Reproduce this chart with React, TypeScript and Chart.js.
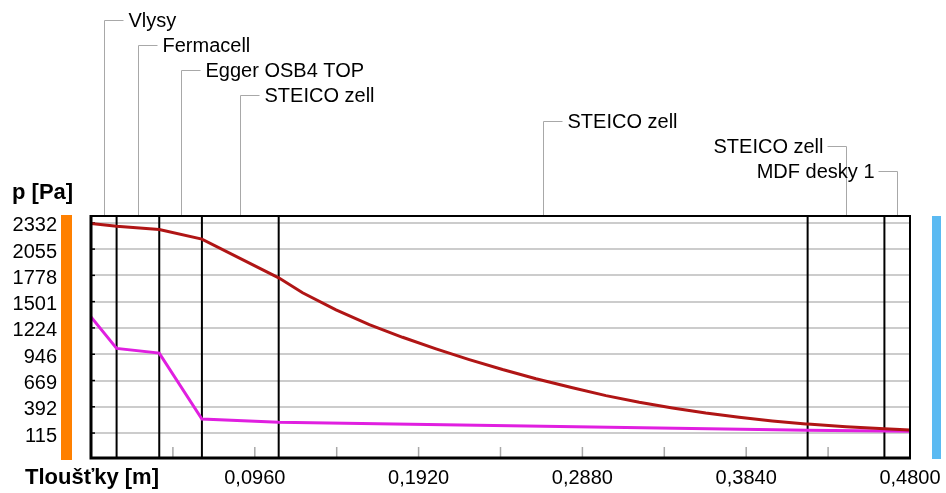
import React, { useEffect, useRef } from 'react';
import { Chart, registerables } from 'chart.js';

Chart.register(...registerables);

// ---- data ----
const layerNames = ['Vlysy', 'Fermacell', 'Egger OSB4 TOP', 'STEICO zell', 'STEICO zell', 'STEICO zell', 'MDF desky 1'];
const layerBounds = [0, 0.015, 0.04, 0.065, 0.11, 0.42, 0.465, 0.48];

const yTickValues = [115, 392, 669, 946, 1224, 1501, 1778, 2055, 2332];
const xLabelValues = [0.096, 0.192, 0.288, 0.384, 0.48];
const xMinorTicks = [0.048, 0.096, 0.144, 0.192, 0.24, 0.288, 0.336, 0.384, 0.432];

const Y_MIN = -148;
const Y_MAX = 2404;
const X_MIN = 0;
const X_MAX = 0.48;

// saturated vapour pressure (dark red)
const satX = [0, 0.015, 0.04, 0.065, 0.11, 0.124, 0.1436, 0.1631, 0.1826, 0.2022, 0.2217, 0.2412, 0.2608, 0.2822, 0.3018, 0.3213, 0.3408, 0.3603, 0.3798, 0.3993, 0.4189, 0.42, 0.4425, 0.465, 0.48];
const satP = [2325, 2295, 2262, 2160, 1752, 1595, 1415, 1258, 1125, 1003, 890, 785, 688, 592, 510, 440, 380, 326, 281, 243, 211, 210, 182, 161, 147];

// partial vapour pressure (magenta)
const partX = [0, 0.015, 0.04, 0.065, 0.11, 0.42, 0.465, 0.48];
const partP = [1340, 1008, 958, 262, 230, 145, 138, 133];

const FONT = "'Liberation Sans', Arial, sans-serif";

const decorPlugin = {
  id: 'decor',
  beforeDatasetsDraw(chart: any) {
    const { ctx, chartArea: a, scales } = chart;
    const x = scales.x;
    const y = scales.y;
    ctx.save();
    // minor tick marks at bottom
    ctx.strokeStyle = '#a8a8a8';
    ctx.lineWidth = 1.5;
    xMinorTicks.forEach((v) => {
      const px = x.getPixelForValue(v);
      ctx.beginPath();
      ctx.moveTo(px, a.bottom - 11);
      ctx.lineTo(px, a.bottom);
      ctx.stroke();
    });
    // small black ticks on left edge
    ctx.strokeStyle = '#000';
    ctx.lineWidth = 1.5;
    yTickValues.forEach((v) => {
      const py = y.getPixelForValue(v);
      ctx.beginPath();
      ctx.moveTo(a.left, py);
      ctx.lineTo(a.left + 4, py);
      ctx.stroke();
    });
    // layer boundaries
    ctx.strokeStyle = '#000';
    ctx.lineWidth = 2;
    layerBounds.forEach((b) => {
      const px = x.getPixelForValue(b);
      ctx.beginPath();
      ctx.moveTo(px, a.top);
      ctx.lineTo(px, a.bottom);
      ctx.stroke();
    });
    ctx.restore();
  },
  afterDatasetsDraw(chart: any) {
    const { ctx, chartArea: a, scales } = chart;
    const x = scales.x;
    ctx.save();
    // frame
    ctx.strokeStyle = '#000';
    ctx.lineWidth = 2;
    ctx.beginPath();
    ctx.moveTo(a.left, a.top);
    ctx.lineTo(a.right, a.top);
    ctx.lineTo(a.right, a.bottom);
    ctx.stroke();
    ctx.lineWidth = 3;
    ctx.beginPath();
    ctx.moveTo(a.left, a.top - 1);
    ctx.lineTo(a.left, a.bottom);
    ctx.lineTo(a.right + 1, a.bottom);
    ctx.stroke();

    // side bars
    ctx.fillStyle = '#ff8000';
    ctx.fillRect(a.left - 30, a.top - 1, 11, a.bottom - a.top + 3);
    ctx.fillStyle = '#5bbaf2';
    ctx.fillRect(a.right + 22, a.top, 9, a.bottom - a.top + 1);

    // axis titles
    ctx.fillStyle = '#000';
    ctx.font = `bold 22px ${FONT}`;
    ctx.textAlign = 'left';
    ctx.textBaseline = 'alphabetic';
    ctx.fillText('p [Pa]', 12, 199);
    ctx.fillText('Tloušťky [m]', 25, 484);

    // layer labels with leaders
    ctx.font = `20px ${FONT}`;
    ctx.textBaseline = 'middle';
    layerNames.forEach((name, i) => {
      const cx = Math.round(x.getPixelForValue((layerBounds[i] + layerBounds[i + 1]) / 2)) + 0.5;
      const ry = Math.round(19.5 + 25.3 * i) + 0.5;
      const w = ctx.measureText(name).width;
      const left = cx + 24 + w > chart.width - 4;
      ctx.strokeStyle = '#a8a8a8';
      ctx.lineWidth = 1;
      ctx.beginPath();
      ctx.moveTo(cx, a.top - 1);
      ctx.lineTo(cx, ry);
      ctx.lineTo(left ? cx - 19 : cx + 19, ry);
      ctx.stroke();
      ctx.fillStyle = '#000';
      if (left) {
        ctx.textAlign = 'right';
        ctx.fillText(name, cx - 23, ry + 1);
      } else {
        ctx.textAlign = 'left';
        ctx.fillText(name, cx + 24, ry + 1);
      }
    });
    ctx.restore();
  },
};

export default function App() {
  const ref = useRef<HTMLCanvasElement | null>(null);

  useEffect(() => {
    if (!ref.current) return;
    const chart = new Chart(ref.current, {
      type: 'line',
      data: {
        datasets: [
          {
            label: 'p sat',
            data: satX.map((v, i) => ({ x: v, y: satP[i] })),
            borderColor: '#b01515',
            borderWidth: 3,
            pointRadius: 0,
            tension: 0,
          },
          {
            label: 'p',
            data: partX.map((v, i) => ({ x: v, y: partP[i] })),
            borderColor: '#e01fe0',
            borderWidth: 3,
            pointRadius: 0,
            tension: 0,
          },
        ],
      },
      options: {
        responsive: false,
        animation: false,
        events: [],
        layout: { padding: { left: 0, right: 36, top: 216, bottom: 0 } },
        plugins: {
          legend: { display: false },
          tooltip: { enabled: false },
        },
        scales: {
          x: {
            type: 'linear',
            min: X_MIN,
            max: X_MAX,
            afterBuildTicks: (s: any) => {
              s.ticks = xLabelValues.map((v) => ({ value: v }));
            },
            afterFit: (s: any) => {
              s.height = 35;
              s.paddingLeft = 0;
              s.paddingRight = 0;
              s.paddingTop = 0;
              s.paddingBottom = 0;
            },
            grid: { display: false, drawTicks: false },
            border: { display: false },
            ticks: {
              autoSkip: false,
              maxRotation: 0,
              padding: 8,
              color: '#000',
              font: { family: FONT, size: 20 },
              callback: (v: any) => Number(v).toFixed(4).replace('.', ','),
            },
          },
          y: {
            type: 'linear',
            min: Y_MIN,
            max: Y_MAX,
            afterBuildTicks: (s: any) => {
              s.ticks = yTickValues.map((v) => ({ value: v }));
            },
            afterFit: (s: any) => {
              s.width = 91;
              s.paddingLeft = 0;
              s.paddingRight = 0;
              s.paddingTop = 0;
              s.paddingBottom = 0;
            },
            grid: { color: '#cccccc', lineWidth: 2, drawTicks: false },
            border: { display: false },
            ticks: {
              autoSkip: false,
              padding: 34,
              labelOffset: 3,
              color: '#000',
              font: { family: FONT, size: 20 },
              callback: (v: any) => String(v),
            },
          },
        },
      },
      plugins: [decorPlugin],
    });
    return () => chart.destroy();
  }, []);

  return (
    <div style={{ position: 'absolute', left: 0, top: 0, width: 946, height: 493, background: '#fff' }}>
      <canvas ref={ref} width={946} height={493} style={{ display: 'block' }} />
    </div>
  );
}
